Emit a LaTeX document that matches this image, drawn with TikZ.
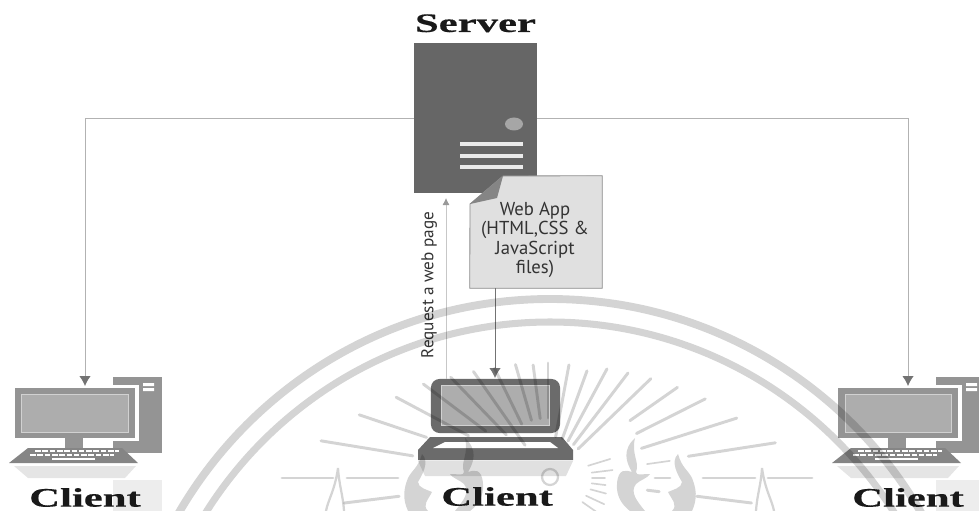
\documentclass[tikz,border=0pt]{standalone}
\usepackage{fontspec}
\newfontfamily\headfont[FakeStretch=1.6,FakeBold=0.4]{Liberation Serif}
\newfontfamily\notefont{PT Sans}
\usepackage{tikz}
\usetikzlibrary{calc,arrows.meta}
\definecolor{servergray}{gray}{0.40}
\definecolor{framegray}{gray}{0.58}
\definecolor{screengray}{gray}{0.68}
\definecolor{lidgray}{gray}{0.42}
\definecolor{notegray}{gray}{0.88}
\tikzstyle{box}=[rectangle,inner sep=0pt,anchor=center]
\tikzstyle{head}=[inner sep=0pt,font=\headfont\bfseries\fontsize{19}{19}\selectfont,text=black!90]
\tikzstyle{annot}=[align=center,inner sep=0pt,text=black!80,font=\notefont\fontsize{13.3}{13.8}\selectfont]
\tikzstyle{link}=[draw=black!30,line width=0.6pt,-{Latex[length=7pt,width=8pt,color=black!55]}]
\tikzstyle{seal}=[black,opacity=0.17]
\tikzstyle{ray}=[seal,line width=2.1pt,line cap=round]
\newcommand{\drawdesktop}[2]
{
  \begin{scope}[shift={(#2,0)}]
    \fill[black!7] (113,480) rectangle (162,511);
    \fill[black!10] (14,466) -- (136,466) -- (125,478) -- (28,478) -- cycle;
    \node[box,fill=framegray,minimum width=1.225cm,minimum height=1.9cm](#1tower) at (137.5,415){};
    \fill[white] (143,383) rectangle (154,386) (143,388) rectangle (154,391);
    \node[box,fill=white,minimum width=3.2cm,minimum height=1.4cm](#1gap) at (75,413){};
    \node[box,fill=framegray,minimum width=3cm,minimum height=1.25cm](#1mon) at (75,413){};
    \node[box,fill=screengray,draw=black!18,line width=0.7pt,minimum width=2.65cm,minimum height=0.95cm] at (75,413){};
    \fill[framegray] (65,438) rectangle (83,448);
    \fill[black!48] (9,463) -- (138,463) -- (122,448) -- (28,448) -- cycle;
    \foreach \rowy/\rowx in {451/35,455/30}
      \draw[white,line width=1.8pt,dash pattern=on 4pt off 1.2pt] (\rowx,\rowy) -- ++(84,0);
    \draw[white,line width=1.8pt] (52,459) -- (95,459);
    \coordinate (#1in) at (85,386);
  \end{scope}
}
\newcommand{\drawflames}[0]
{
  \fill[seal] (635,438) .. controls (622,450) and (626,462) .. (632,472) .. controls (626,470) and (618,468) .. (617,484) .. controls (616,496) and (622,505) .. (630,511) -- (645,511) .. controls (636,500) and (630,492) .. (636,484) .. controls (640,480) and (648,478) .. (650,474) .. controls (640,474) and (637,476) .. (636,472) .. controls (640,462) and (631,455) .. (635,438) -- cycle;
  \fill[seal] (678,454) .. controls (670,462) and (678,475) .. (682,482) .. controls (682,488) and (672,490) .. (668,492) .. controls (672,500) and (678,505) .. (672,511) -- (692,511) .. controls (698,498) and (696,488) .. (692,478) .. controls (688,470) and (682,468) .. (678,454) -- cycle;
  \draw[seal,line width=1.6pt] (762,468) .. controls (761,485) and (757,495) .. (756,511) (762,468) .. controls (765,490) and (772,500) .. (774,511);
}

\begin{document}
\begin{tikzpicture}[x=0.025cm,y=-0.025cm]
	\path[use as bounding box,clip] (0,0) rectangle (979,511);

	\node[box,fill=servergray,minimum width=3.075cm,minimum height=3.75cm](server) at (475.5,118){};
	\node[head,above of=server,anchor=base,node distance=2.15cm](serverlabel) {Server};
	\fill[black!35] (514,124) ellipse (9 and 6.5);
	\foreach \liney in {144,156,167}
		\draw[white!92!black,line width=2.6pt] (460,\liney) -- (523,\liney);

	\drawdesktop{left}{0}
	\drawdesktop{right}{823}

	%laptop
	\fill[black!12] (418,461) -- (573,461) -- (566,476) -- (425,476) -- cycle;
	\node[box,fill=lidgray,rounded corners=6pt,minimum width=3.225cm,minimum height=1.35cm](laptop) at (495.5,406){};
	\node[box,fill=screengray,draw=black!18,line width=0.7pt,minimum width=2.72cm,minimum height=1.02cm](laptopscreen) at (495.5,405.5){};
	\fill[lidgray] (418,460) -- (573,460) -- (573,450) -- (562,437) -- (430,437) -- (418,450) -- cycle;
	\fill[white] (433,448) -- (445,442) -- (550,442) -- (558,448) -- cycle;

	%web app note
	\node[box,minimum width=3.3cm,minimum height=2.8cm](webapp) at (536,232){};
	\filldraw[fill=notegray,draw=black!45,line width=0.6pt] (webapp.south west) -- (470,204) -- (503,176) -- (webapp.north east) -- (webapp.south east) -- cycle;
	\fill[black!48] (470,204) -- (503,176) -- (497,198) -- cycle;
	\node[annot](webapptext) at (535,240) {Web App\\(HTML,CSS \&\\JavaScript\\files)};

	\coordinate (requesttip) at (446,198);
	\coordinate (webappin) at (495,378);
	\draw[link] (server.west) -| (leftin);
	\draw[link] (server.east) -| (rightin);
	\draw[link,draw=black!55] (webapp.south -| webappin) -- (webappin);
	\draw[draw=black!22,line width=0.6pt,-{Latex[length=5pt,width=5pt,color=black!40]}] (laptop.north -| requesttip) -- (requesttip);
	\node[annot,rotate=90,font=\notefont\fontsize{12.2}{13.8}\selectfont](requestlabel) at (429,285) {Request a web page};

	%seal
	\begin{scope}[shift={(550,728)}]
		\draw[seal,line width=5.6pt] (0,0) circle (429);
		\draw[seal,line width=5pt] (0,0) circle (406);
	\end{scope}
	\begin{scope}[shift={(548,478)}]
		\foreach \a/\ri/\ro in {8.8/142/230,17.6/98/198,26.7/99/176,35/100/158,44/42/143,52.7/42/132,61.6/42/124,70/42/114,79.5/42/115,90/60/115,97.5/60/114,106/60/118,116/60/122,125/40/130,134/60/140,143/78/156,152/90/172,161.5/128/199,170.7/137/230,-7/150/205,-7/100/112,187/150/205}
			\draw[ray] (-\a:\ri) -- (-\a:\ro);
		\foreach \a/\ri/\ro in {17/42/65,7/44/65,0/44/57,-7/44/58,-15/44/60,-25/42/62,-35/42/62,8/100/123}
			\draw[ray,line width=1.2pt] (-\a:\ri) -- (-\a:\ro);
		\foreach \ri/\ro in {107/122,155/207,220/264,-150/-201,-215/-266}
			\draw[ray] (\ri,0) -- (\ro,0);
	\end{scope}
	\draw[seal,line width=1.6pt] (550,477) circle (8);
	\foreach \m in {1,-1}
	{
		\begin{scope}[shift={(550,0)},xscale=\m,shift={(-550,0)}]
			\drawflames{}
		\end{scope}
	}

	\node[head,below of=leftmon,anchor=north,node distance=1.87cm,xshift=0.25cm](leftlabel) {Client};
	\node[head,below of=laptop,anchor=north,node distance=2.02cm,xshift=0.04cm](laptoplabel) {Client};
	\node[head,below of=rightmon,anchor=north,node distance=1.87cm,xshift=0.25cm](rightlabel) {Client};

\end{tikzpicture}
\end{document}
